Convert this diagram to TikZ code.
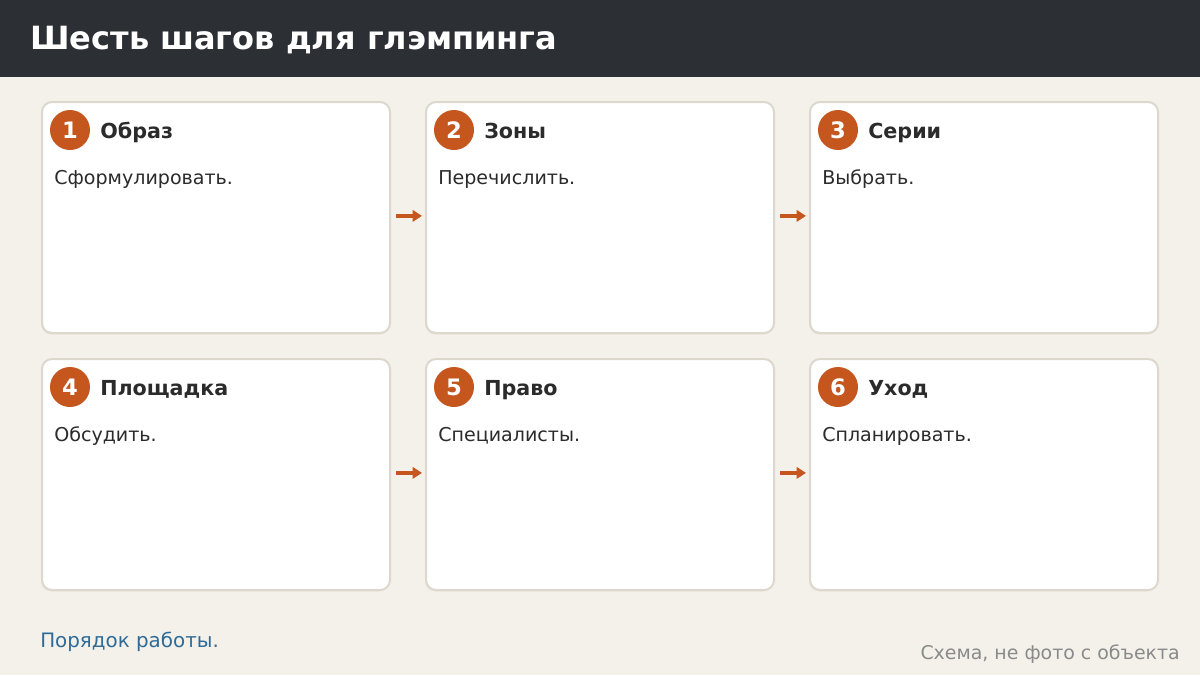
\documentclass[tikz,border=0pt]{standalone}
\usepackage{fontspec}
\setmainfont{DejaVu Sans}
\usetikzlibrary{arrows.meta}
\definecolor{hdr}{HTML}{2C2F34}
\definecolor{bgc}{HTML}{F4F1EA}
\definecolor{cardline}{HTML}{DDD8CE}
\definecolor{shad}{HTML}{E4E0D8}
\definecolor{accent}{HTML}{C4561E}
\definecolor{ink}{HTML}{2B2B2B}
\definecolor{linkblue}{HTML}{2F6B97}
\definecolor{note}{HTML}{8A8A8A}
\tikzset{
  card/.style={draw=cardline, line width=1.5pt, fill=white, rounded corners=7.5pt,
    minimum width=261pt, minimum height=173.25pt, anchor=north west, inner sep=0pt},
  cardshadow/.style={fill=shad, rounded corners=7.5pt,
    minimum width=261pt, minimum height=173.25pt, anchor=north west, inner sep=0pt},
  badge/.style={circle, fill=accent, minimum size=30pt, inner sep=0pt,
    text=white, font=\bfseries\fontsize{17}{18}\selectfont},
  ctitle/.style={anchor=base west, inner sep=0pt, text=ink, font=\bfseries\fontsize{15.5}{18}\selectfont},
  cbody/.style={anchor=base west, inner sep=0pt, text=ink, font=\fontsize{14.3}{16}\selectfont},
  flow/.style={draw=accent, line width=2.4pt, -{Triangle[length=7pt,width=8.5pt]},
    shorten <=3.5pt, shorten >=2.25pt}
}
\begin{document}
\begin{tikzpicture}[x=0.75pt,y=-0.75pt]
\useasboundingbox (0,0) rectangle (1200,675);
\fill[bgc] (0,0) rectangle (1200,675);
\fill[hdr] (0,0) rectangle (1200,77);
\node[anchor=base west, inner sep=0pt, text=white, font=\bfseries\fontsize{24}{28}\selectfont] (title) at (30,49) {Шесть шагов для глэмпинга};

\foreach \i/\x/\y/\t/\b in {1/41/101/Образ/Сформулировать.,
                            2/425/101/Зоны/Перечислить.,
                            3/809/101/Серии/Выбрать.,
                            4/41/358/Площадка/Обсудить.,
                            5/425/358/Право/Специалисты.,
                            6/809/358/Уход/Спланировать.}{
  \node[cardshadow] (s\i) at (\x,\y+2) {};
  \node[card] (c\i) at (\x,\y) {};
  \node[badge] (n\i) at (\x+29,\y+29) {\i};
  \node[ctitle] (t\i) at (\x+59,\y+37) {\t};
  \node[cbody] (b\i) at (\x+13,\y+83) {\b};
}
\draw[flow] ([yshift=1.2pt]c1.east) -- ([yshift=1.2pt]c2.west);
\draw[flow] ([yshift=1.2pt]c2.east) -- ([yshift=1.2pt]c3.west);
\draw[flow] ([yshift=1.2pt]c4.east) -- ([yshift=1.2pt]c5.west);
\draw[flow] ([yshift=1.2pt]c5.east) -- ([yshift=1.2pt]c6.west);

\node[anchor=base west, inner sep=0pt, text=linkblue, font=\fontsize{14.9}{17}\selectfont] (foot) at (40,647) {Порядок работы.};
\node[anchor=base east, inner sep=0pt, text=note, font=\fontsize{14.2}{16}\selectfont] (src) at (1180,659) {Схема, не фото с объекта};
\end{tikzpicture}
\end{document}
